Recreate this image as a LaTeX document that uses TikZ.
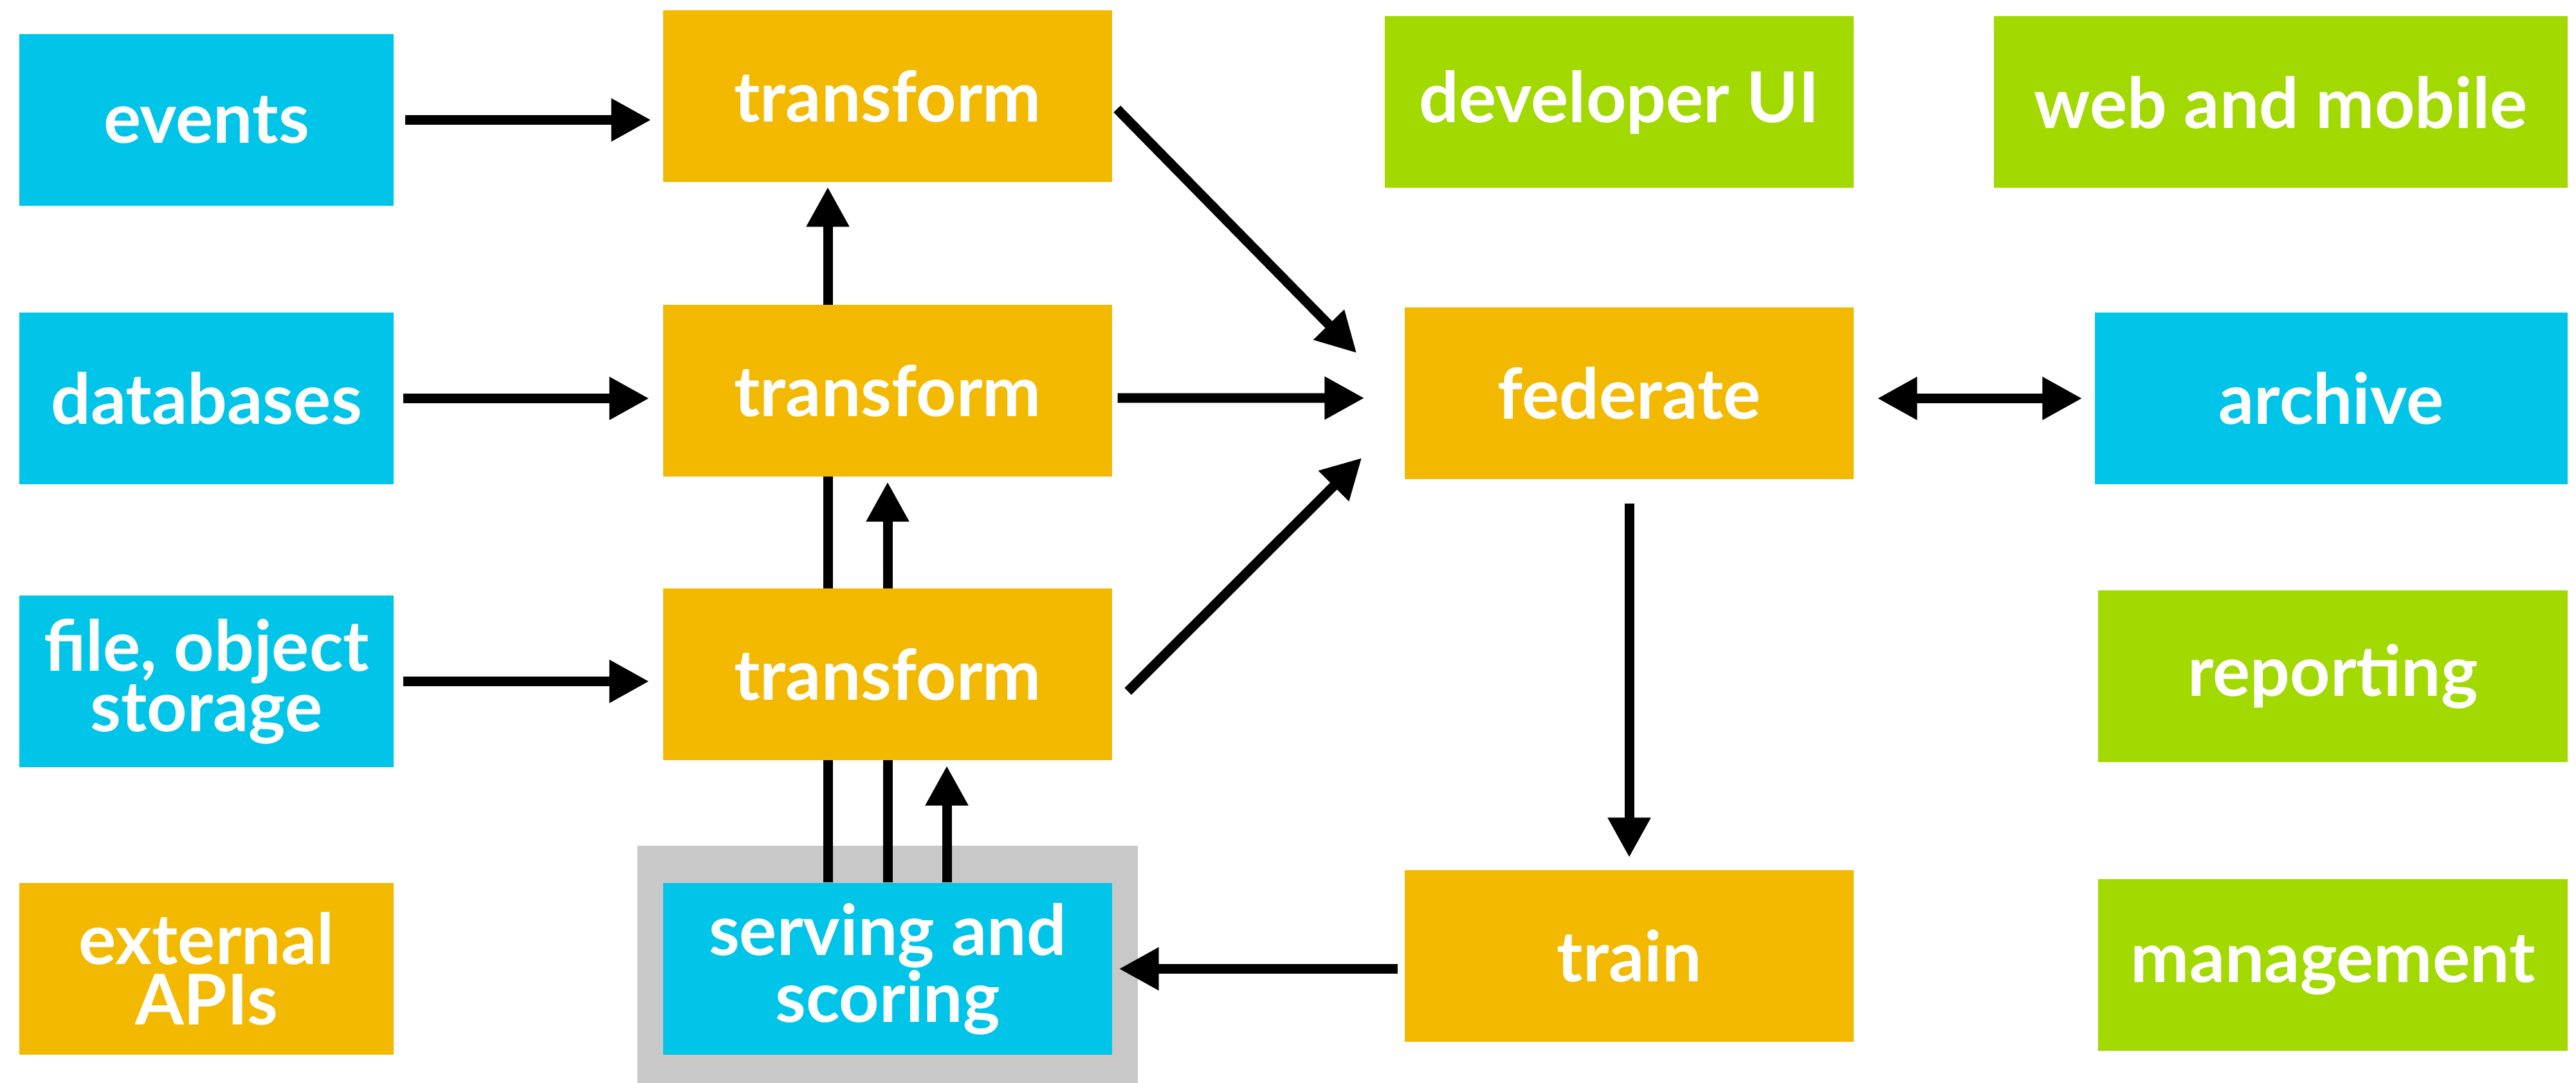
\documentclass[tikz,border=0pt]{standalone}
\usepackage{fontspec}
\setmainfont{Lato}
\usetikzlibrary{arrows.meta,positioning,fit,backgrounds}
\definecolor{SourceCyan}{RGB}{0,196,232}
\definecolor{StageOrange}{RGB}{242,185,0}
\definecolor{AppGreen}{RGB}{161,217,0}
\definecolor{HostGray}{RGB}{200,200,200}
\tikzset{
  basebox/.style={rectangle,inner sep=0pt,minimum height=2.67cm,
    align=center,text=white,font=\bfseries\fontsize{31}{26.7}\selectfont},
  sourcebox/.style={basebox,fill=SourceCyan,minimum width=5.82cm},
  stagebox/.style={basebox,fill=StageOrange,minimum width=6.98cm},
  appbox/.style={basebox,fill=AppGreen,minimum width=7.3cm},
  flowarrow/.style={-{Triangle[length=0.62cm,width=0.63cm]},
    line width=0.15cm,draw=black},
  botharrow/.style={{Triangle[length=0.62cm,width=0.63cm]}-{Triangle[length=0.62cm,width=0.63cm]},
    line width=0.15cm,draw=black},
}

\begin{document}
\begin{tikzpicture}
  \useasboundingbox (0,0) rectangle (40.05,-16.84);
  % sources
  \node[sourcebox] (events) at (3.21,-1.865) {events};
  \node[sourcebox] (databases) at (3.21,-6.195) {databases};
  \node[sourcebox] (storage) at (3.21,-10.595) {file, object\\storage};
  \node[stagebox,minimum width=5.82cm] (apis) at (3.21,-15.065) {external\\APIs};
  % transform stages
  \node[stagebox] (tfA) at (13.80,-1.495) {transform};
  \node[stagebox] (tfB) at (13.80,-6.08) {transform};
  \node[stagebox] (tfC) at (13.80,-10.485) {transform};
  \node[sourcebox,minimum width=6.98cm] (serving) at (13.80,-15.065) {serving and\\scoring};
  % middle column
  \node[appbox,minimum width=7.29cm] (devui) at (25.175,-1.59) {developer UI};
  \node[stagebox] (federate) at (25.33,-6.115) {federate};
  \node[stagebox] (train) at (25.33,-14.865) {train};
  % right column
  \node[appbox,minimum width=8.92cm] (webmobile) at (35.46,-1.59) {web and mobile};
  \node[sourcebox,minimum width=7.35cm] (archive) at (36.245,-6.195) {archive};
  \node[appbox] (reporting) at (36.27,-10.515) {reporting};
  \node[appbox] (management) at (36.27,-15.01) {management};

  \begin{pgfonlayer}{background}
    \node[fill=HostGray,inner xsep=0.39cm,inner ysep=0.57cm,fit=(serving)] (host) {};
    \draw[flowarrow,shorten >=0.07cm] ([xshift=-0.93cm]serving.north) -- ([xshift=-0.93cm]tfA.south);
    \draw[flowarrow,shorten >=0.07cm] (serving.north) -- (tfB.south);
    \draw[flowarrow,shorten >=0.08cm] ([xshift=0.92cm]serving.north) -- ([xshift=0.92cm]tfC.south);
  \end{pgfonlayer}

  \draw[flowarrow,shorten <=0.17cm,shorten >=0.18cm] (events.east) -- (events.east -| tfA.west);
  \draw[flowarrow,shorten <=0.14cm,shorten >=0.21cm] (databases.east) -- (databases.east -| tfB.west);
  \draw[flowarrow,shorten <=0.14cm,shorten >=0.21cm] (storage.east) -- (storage.east -| tfC.west);
  \draw[flowarrow] ([shift={(0.07,-0.2)}]tfA.east) -- ([shift={(-0.74,0.625)}]federate.west);
  \draw[flowarrow] ([shift={(0.08,-0.11)}]tfB.east) -- ([shift={(-0.62,-0.075)}]federate.west);
  \draw[flowarrow] ([shift={(0.24,-0.265)}]tfC.east) -- ([shift={(-0.66,-1.005)}]federate.west);
  \draw[botharrow,shorten <=0.36cm,shorten >=0.19cm] (federate.east |- archive.west) -- (archive.west);
  \draw[flowarrow,shorten <=0.37cm,shorten >=0.19cm] (federate.south) -- (train.north);
  \draw[flowarrow,shorten <=0.10cm,shorten >=0.10cm] (train.west |- serving.east) -- (serving.east);
\end{tikzpicture}
\end{document}
